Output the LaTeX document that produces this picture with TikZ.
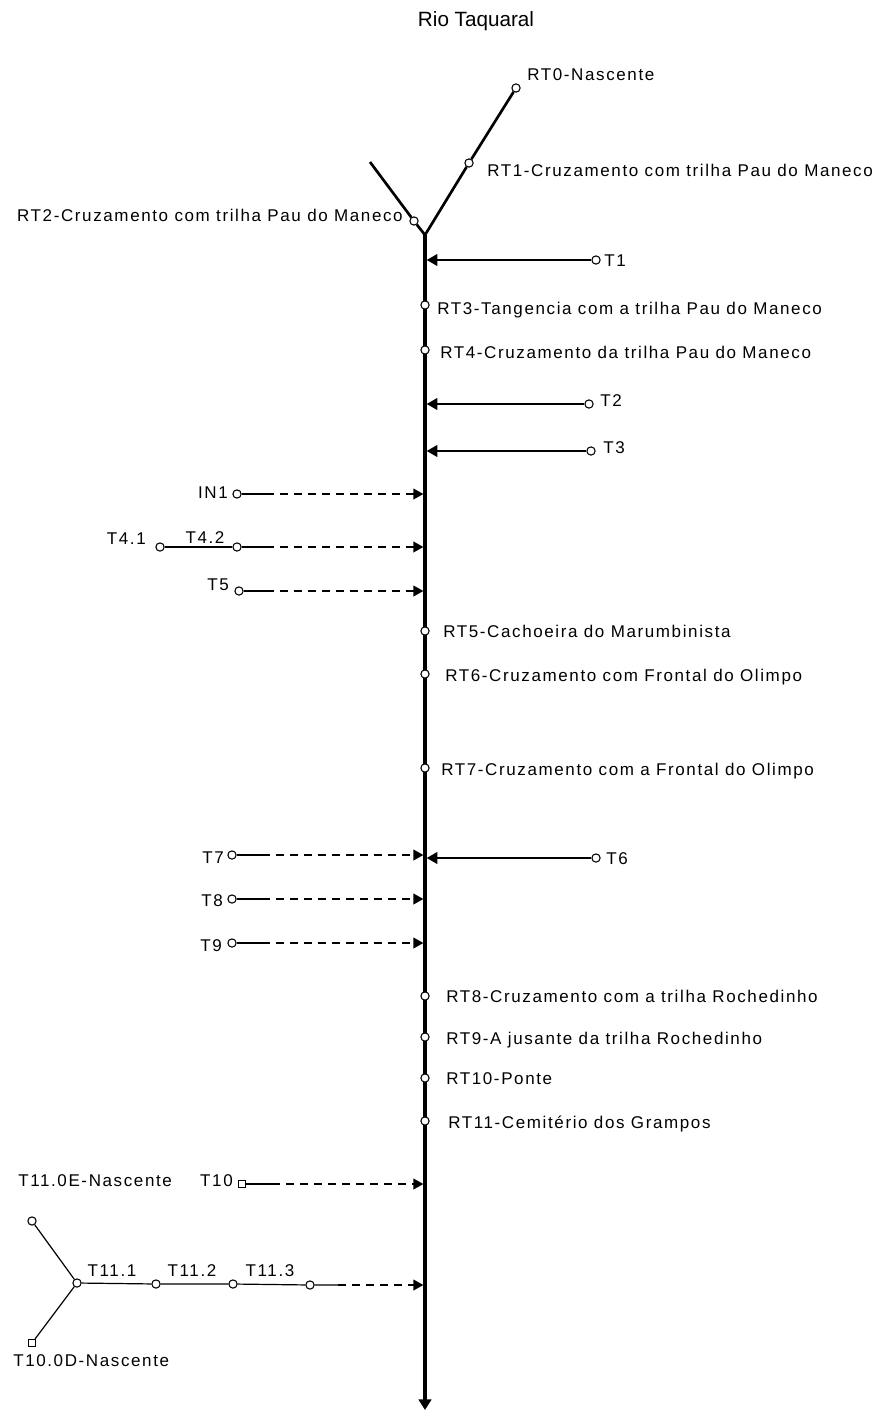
\documentclass[tikz,border=0pt]{standalone}
\usepackage{fontspec}
\setmainfont{Liberation Sans}
\newfontfamily\rotulofont[LetterSpace=9.5]{Liberation Sans}
\usetikzlibrary{arrows.meta}

\tikzset{
    ponto/.style={circle, draw, fill=white, line width=.8pt, minimum size=6.2pt, inner sep=0pt},
    quadrado/.style={rectangle, draw, fill=white, line width=.8pt, minimum size=5.5pt, inner sep=0pt},
    rotulo/.style={font=\rotulofont\fontsize{12.75}{14}\selectfont, inner sep=0pt},
    rio/.style={line width=2.5pt},
    braco/.style={line width=2pt},
    afluente/.style={line width=2pt, -{Triangle[length=8pt,width=8.5pt]}, shorten >=1.2pt},
    trilha/.style={line width=.9pt},
    intermitente/.style={line width=1.2pt, dash pattern=on 6pt off 4.5pt,
        -{Triangle[length=7.5pt,width=8pt]}, shorten >=1.2pt},
}

\begin{document}
\begin{tikzpicture}[x=.75pt, y=-.75pt]
    \useasboundingbox (0,0) rectangle (874,1416);

    % Titulo.
    \node[font=\fontsize{15.5}{18}\selectfont, anchor=base] (titulo) at (476,27) {Rio Taquaral};

    % Curso principal do rio.
    \coordinate (j) at (425,235);
    \coordinate (foz) at (425,1410);
    \draw[rio, -{Triangle[length=8pt,width=9.5pt]}] (j) -- (foz);

    % Bracos da nascente.
    \node[ponto] (rt0) at (516,88) {};
    \node[ponto] (rt1) at (469,163) {};
    \coordinate (nw) at (370,162);
    \node[ponto] (rt2) at (414,221) {};
    \draw[braco] (j) -- (rt1) -- (rt0);
    \draw[braco] (nw) -- (rt2) -- (j);

    % Pontos ao longo do rio.
    \node[ponto] (rt3) at (425,305) {};
    \node[ponto] (rt4) at (425,350) {};
    \node[ponto] (rt5) at (425,631) {};
    \node[ponto] (rt6) at (425,674) {};
    \node[ponto] (rt7) at (425,768) {};
    \node[ponto] (rt8) at (425,996) {};
    \node[ponto] (rt9) at (425,1037) {};
    \node[ponto] (rt10) at (425,1078) {};
    \node[ponto] (rt11) at (425,1121) {};

    % Afluentes pela margem direita.
    \node[ponto] (t1) at (596,260) {};
    \node[ponto] (t2) at (589,404) {};
    \node[ponto] (t3) at (591,451) {};
    \node[ponto] (t6) at (596,858) {};
    \coordinate (t1m) at (425,260);
    \coordinate (t2m) at (425,404);
    \coordinate (t3m) at (425,451);
    \coordinate (t6m) at (425,858);
    \draw[afluente] (t1) -- (t1m);
    \draw[afluente] (t2) -- (t2m);
    \draw[afluente] (t3) -- (t3m);
    \draw[afluente] (t6) -- (t6m);

    % Afluentes pela margem esquerda (tracejado).
    \node[ponto] (in1) at (237,494) {};
    \node[ponto] (t41) at (160,547) {};
    \node[ponto] (t42) at (237,547) {};
    \node[ponto] (t5) at (239,591) {};
    \node[ponto] (t7) at (232,855) {};
    \node[ponto] (t8) at (232,899) {};
    \node[ponto] (t9) at (232,943) {};
    \node[quadrado] (t10) at (242,1184) {};
    \coordinate (in1a) at (266,494);   \coordinate (in1m) at (425,494);
    \coordinate (t42a) at (266,547);   \coordinate (t42m) at (425,547);
    \coordinate (t5a) at (266,591);    \coordinate (t5m) at (425,591);
    \coordinate (t7a) at (262,855);    \coordinate (t7m) at (425,855);
    \coordinate (t8a) at (262,899);    \coordinate (t8m) at (425,899);
    \coordinate (t9a) at (262,943);    \coordinate (t9m) at (425,943);
    \coordinate (t10a) at (272,1184);  \coordinate (t10m) at (425,1184);
    \draw[trilha] (t41) -- (t42);
    \draw[trilha] (in1) -- (in1a);  \draw[intermitente] (in1a) -- (in1m);
    \draw[trilha] (t42) -- (t42a);  \draw[intermitente] (t42a) -- (t42m);
    \draw[trilha] (t5) -- (t5a);    \draw[intermitente] (t5a) -- (t5m);
    \draw[trilha] (t7) -- (t7a);    \draw[intermitente] (t7a) -- (t7m);
    \draw[trilha] (t8) -- (t8a);    \draw[intermitente] (t8a) -- (t8m);
    \draw[trilha] (t9) -- (t9a);    \draw[intermitente] (t9a) -- (t9m);
    \draw[trilha] (t10) -- (t10a);  \draw[intermitente] (t10a) -- (t10m);

    % Ramo do T11 com as duas nascentes.
    \node[ponto] (t110) at (77,1283) {};
    \node[ponto] (t11e) at (32,1221) {};
    \node[quadrado] (t10d) at (32,1343) {};
    \node[ponto] (t111) at (156,1284) {};
    \node[ponto] (t112) at (233,1284) {};
    \node[ponto] (t113) at (310,1285) {};
    \coordinate (t113a) at (338,1285);  \coordinate (t113m) at (425,1285);
    \draw[trilha] (t11e) -- (t110) -- (t10d);
    \draw[trilha] (t110) -- (t111) -- (t112) -- (t113) -- (t113a);
    \draw[intermitente] (t113a) -- (t113m);

    % Rotulos.
    \node[rotulo, anchor=base west] (lrt0) at (527,81) {RT0-Nascente};
    \node[rotulo, anchor=base west] (lrt1) at (487,176) {RT1-Cruzamento com trilha Pau do Maneco};
    \node[rotulo, anchor=base east] (lrt2) at (403,221) {RT2-Cruzamento com trilha Pau do Maneco};
    \node[rotulo, anchor=base west] (lt1) at (604,266) {T1};
    \node[rotulo, anchor=base west] (lrt3) at (437,314) {RT3-Tangencia com a trilha Pau do Maneco};
    \node[rotulo, anchor=base west] (lrt4) at (440,358) {RT4-Cruzamento da trilha Pau do Maneco};
    \node[rotulo, anchor=base west] (lt2) at (600,406) {T2};
    \node[rotulo, anchor=base west] (lt3) at (603,453) {T3};
    \node[rotulo, anchor=base east] (lin1) at (228,498) {IN1};
    \node[rotulo, anchor=base east] (lt41) at (146,544) {T4.1};
    \node[rotulo, anchor=base] (lt42) at (205,543) {T4.2};
    \node[rotulo, anchor=base east] (lt5) at (229,590) {T5};
    \node[rotulo, anchor=base west] (lrt5) at (443,637) {RT5-Cachoeira do Marumbinista};
    \node[rotulo, anchor=base west] (lrt6) at (445,681) {RT6-Cruzamento com Frontal do Olimpo};
    \node[rotulo, anchor=base west] (lrt7) at (441,775) {RT7-Cruzamento com a Frontal do Olimpo};
    \node[rotulo, anchor=base east] (lt7) at (224,863) {T7};
    \node[rotulo, anchor=base west] (lt6) at (606,864) {T6};
    \node[rotulo, anchor=base east] (lt8) at (223,906) {T8};
    \node[rotulo, anchor=base east] (lt9) at (222,951) {T9};
    \node[rotulo, anchor=base west] (lrt8) at (446,1002) {RT8-Cruzamento com a trilha Rochedinho};
    \node[rotulo, anchor=base west] (lrt9) at (446,1044) {RT9-A jusante da trilha Rochedinho};
    \node[rotulo, anchor=base west] (lrt10) at (446,1084) {RT10-Ponte};
    \node[rotulo, anchor=base west] (lrt11) at (448,1128) {RT11-Cemitério dos Grampos};
    \node[rotulo, anchor=base west] (lt11e) at (18,1186) {T11.0E-Nascente};
    \node[rotulo, anchor=base east] (lt10) at (233,1186) {T10};
    \node[rotulo, anchor=base] (lt111) at (112,1276) {T11.1};
    \node[rotulo, anchor=base] (lt112) at (192,1276) {T11.2};
    \node[rotulo, anchor=base] (lt113) at (270,1276) {T11.3};
    \node[rotulo, anchor=base west] (lt10d) at (13,1366) {T10.0D-Nascente};
\end{tikzpicture}
\end{document}
